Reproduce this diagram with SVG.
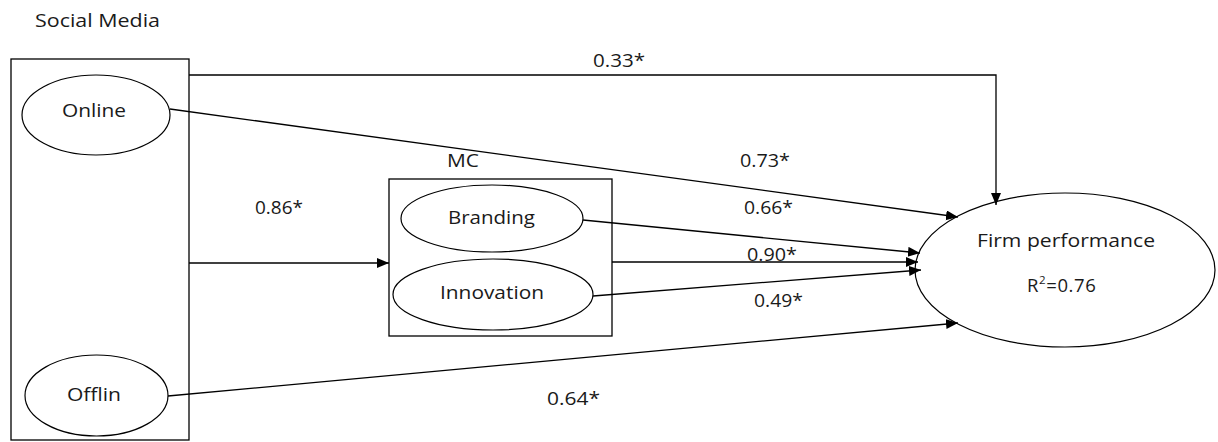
<svg xmlns="http://www.w3.org/2000/svg" width="1218" height="442" viewBox="0 0 1218 442">
<style>
  .box { fill: none; stroke: #000; stroke-width: 1.3; }
  .ell { fill: #fff; stroke: #000; stroke-width: 1.2; }
  .con { fill: none; stroke: #000; stroke-width: 1.3; }
  text { font-family: "Open Sans", "Liberation Sans", sans-serif; font-size: 18.5px; fill: #1a1a1a; }
  .mid { text-anchor: middle; }
</style>
<defs>
  <marker id="arr" markerUnits="userSpaceOnUse" markerWidth="13" markerHeight="11" refX="12" refY="5" orient="auto">
    <path d="M0,0 L12,5 L0,10 z" fill="#000"/>
  </marker>
</defs>
<rect width="1218" height="442" fill="#fff"/>

<g id="social-media">
  <text x="35" y="27" textLength="125" lengthAdjust="spacingAndGlyphs">Social Media</text>
  <rect class="box" x="11" y="59" width="178" height="381"/>
</g>
<g id="online">
  <ellipse class="ell" cx="96" cy="115" rx="74" ry="40"/>
  <text x="94" y="117" class="mid" textLength="64" lengthAdjust="spacingAndGlyphs">Online</text>
</g>
<g id="offlin">
  <ellipse class="ell" cx="96.5" cy="395.5" rx="71.5" ry="40.5"/>
  <text x="94" y="401" class="mid" textLength="54" lengthAdjust="spacingAndGlyphs">Offlin</text>
</g>
<g id="mc">
  <text x="463" y="167" class="mid" textLength="32" lengthAdjust="spacingAndGlyphs">MC</text>
  <rect class="box" x="389" y="179" width="223" height="157"/>
</g>
<g id="branding">
  <ellipse class="ell" cx="492" cy="218.5" rx="91" ry="33.5"/>
  <text x="491.5" y="224" class="mid" textLength="87" lengthAdjust="spacingAndGlyphs">Branding</text>
</g>
<g id="innovation">
  <ellipse class="ell" cx="493" cy="294.5" rx="100" ry="35.5"/>
  <text x="492" y="299" class="mid" textLength="104" lengthAdjust="spacingAndGlyphs">Innovation</text>
</g>
<g id="firm-performance">
  <ellipse class="ell" cx="1065" cy="270" rx="150" ry="77"/>
  <text x="1066" y="247" class="mid" textLength="178" lengthAdjust="spacingAndGlyphs">Firm performance</text>
  <text x="1027" y="292" font-size="19.5" letter-spacing="0.6">R<tspan font-size="11.5" dy="-8">2</tspan><tspan dy="8">=0.76</tspan></text>
</g>

<g id="connectors">
  <path class="con" d="M189,75 H996 V205" marker-end="url(#arr)"/>
  <line class="con" x1="170" y1="109" x2="958" y2="217" marker-end="url(#arr)"/>
  <line class="con" x1="189" y1="263" x2="389" y2="263" marker-end="url(#arr)"/>
  <line class="con" x1="583" y1="220" x2="920" y2="253" marker-end="url(#arr)"/>
  <line class="con" x1="612" y1="262" x2="918" y2="262" marker-end="url(#arr)"/>
  <line class="con" x1="593" y1="296" x2="921" y2="270" marker-end="url(#arr)"/>
  <line class="con" x1="168" y1="396" x2="958" y2="323" marker-end="url(#arr)"/>
</g>

<g id="labels">
  <text x="593" y="67" textLength="52" lengthAdjust="spacingAndGlyphs">0.33*</text>
  <text x="740" y="167" textLength="50" lengthAdjust="spacingAndGlyphs">0.73*</text>
  <text x="255" y="214" textLength="48" lengthAdjust="spacingAndGlyphs">0.86*</text>
  <text x="744" y="214" textLength="49" lengthAdjust="spacingAndGlyphs">0.66*</text>
  <text x="747" y="261" textLength="50" lengthAdjust="spacingAndGlyphs">0.90*</text>
  <text x="754" y="307" textLength="49" lengthAdjust="spacingAndGlyphs">0.49*</text>
  <text x="547" y="405" textLength="53" lengthAdjust="spacingAndGlyphs">0.64*</text>
</g>
</svg>
